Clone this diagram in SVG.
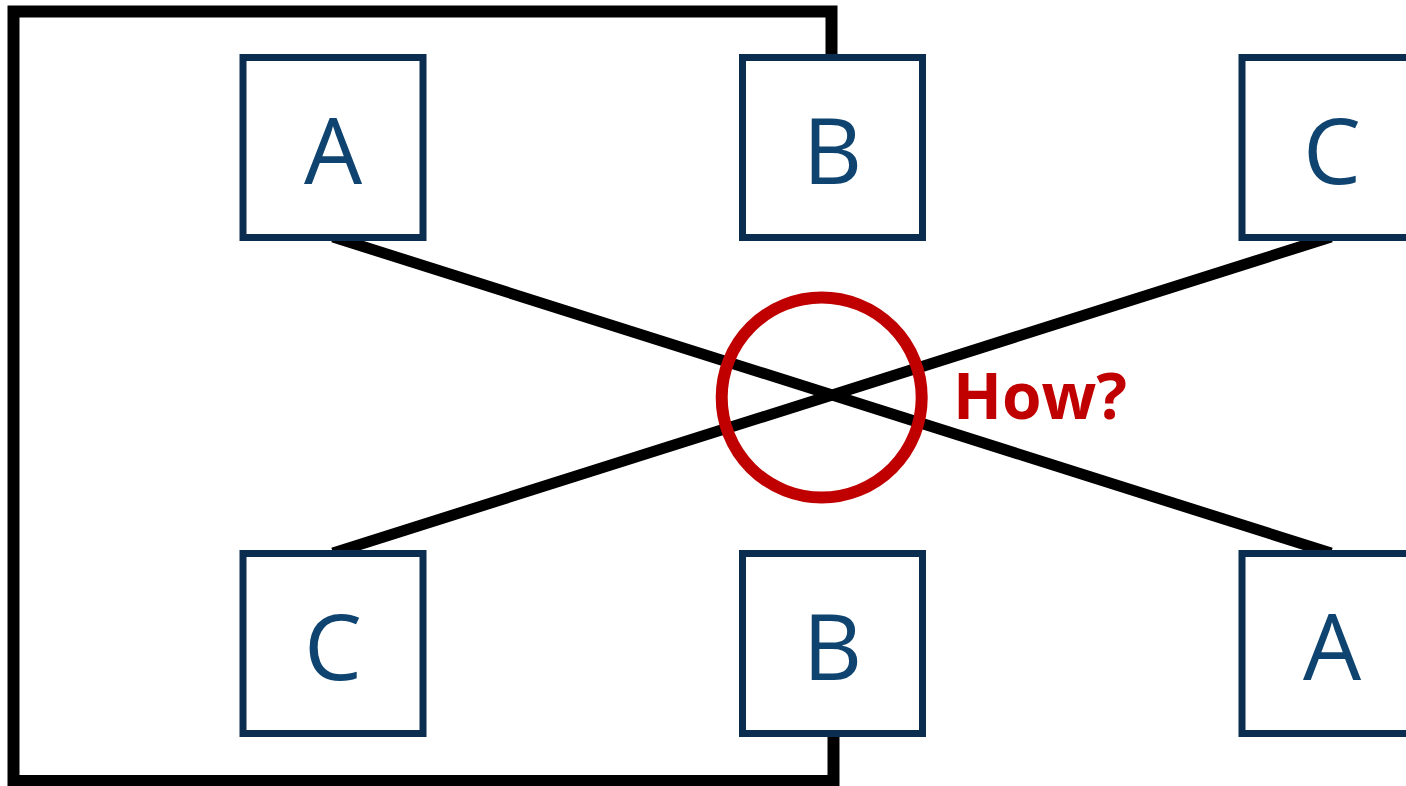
<svg xmlns="http://www.w3.org/2000/svg" width="1406" height="786" viewBox="0 0 1406 786">
  <style>
    .node rect { fill: #ffffff; stroke: #0b2d4f; stroke-width: 7; }
    .node text { font-family: "Open Sans", "Noto Sans", "Liberation Sans", sans-serif; font-size: 92px; fill: #0f4470; text-anchor: middle; }
    .wire { fill: none; stroke: #000000; stroke-width: 12; stroke-linejoin: miter; }
    .cross { stroke: #000000; stroke-width: 11; stroke-linecap: butt; }
    .mark { fill: none; stroke: #c00000; stroke-width: 12; }
    .note { font-family: "Open Sans", "Noto Sans", "Liberation Sans", sans-serif; font-weight: bold; font-size: 64px; fill: #c00000; }
  </style>
  <rect width="1406" height="786" fill="#ffffff"/>

  <!-- connectors -->
  <g id="connectors">
    <path class="wire" d="M831.5,60 V11.5 H13.5 V781 H833.5 V736"/>
    <line class="cross" x1="333" y1="237" x2="1331" y2="553"/>
    <line class="cross" x1="333" y1="553" x2="1331" y2="237"/>
  </g>

  <!-- top row -->
  <g id="node-top-a" class="node">
    <rect x="243" y="57.5" width="180" height="180"/>
    <text x="333" y="184">A</text>
  </g>
  <g id="node-top-b" class="node">
    <rect x="742.5" y="57.5" width="180" height="180"/>
    <text x="832.5" y="184">B</text>
  </g>
  <g id="node-top-c" class="node">
    <rect x="1242" y="57.5" width="180" height="180"/>
    <text x="1332" y="184">C</text>
  </g>

  <!-- bottom row -->
  <g id="node-bottom-c" class="node">
    <rect x="243" y="553.5" width="180" height="180"/>
    <text x="333" y="680">C</text>
  </g>
  <g id="node-bottom-b" class="node">
    <rect x="742.5" y="553.5" width="180" height="180"/>
    <text x="832.5" y="680">B</text>
  </g>
  <g id="node-bottom-a" class="node">
    <rect x="1242" y="553.5" width="180" height="180"/>
    <text x="1332" y="680">A</text>
  </g>

  <!-- crossing highlight -->
  <g id="crossing-mark">
    <circle class="mark" cx="821.7" cy="397.5" r="100"/>
    <text class="note" x="953" y="419">How?</text>
  </g>
</svg>
